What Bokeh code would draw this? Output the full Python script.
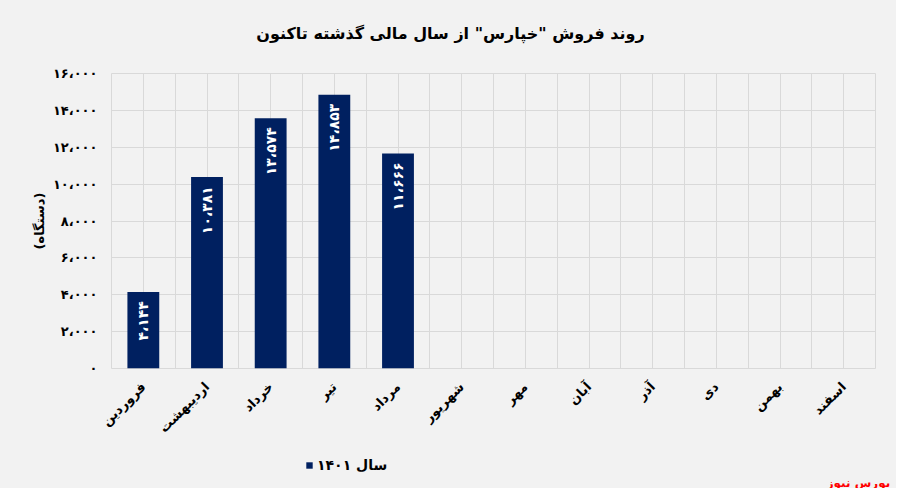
from math import pi
from bokeh.plotting import figure
from bokeh.layouts import column
from bokeh.models import (FactorRange, Range1d, FixedTicker, Grid, Legend, LegendItem,
                          ColumnDataSource)
from bokeh.core.properties import value
from bokeh.embed import file_html
from bokeh.resources import INLINE

# ---- data ----
months = ["فروردین", "اردیبهشت", "خرداد", "تیر", "مرداد", "شهریور",
          "مهر", "آبان", "آذر", "دی", "بهمن", "اسفند"]
sales_1401 = [4144, 10381, 13574, 14853, 11666]
y_ticks = [0, 2000, 4000, 6000, 8000, 10000, 12000, 14000, 16000]
series_name = "سال ۱۴۰۱"
title_text = 'روند فروش "خپارس" از سال مالی گذشته تاکنون'
y_label = "(دستگاه)"
source_text = "بورس نیوز"

FA = str.maketrans("0123456789", "۰۱۲۳۴۵۶۷۸۹")


def fa_num(n):
    return f"{n:,}".replace(",", "،").translate(FA)


FONT = "DejaVu Sans"
NAVY = "#002060"
BG = "#f2f2f2"
GRID = "#d9d9d9"
W = 896
HEAD_H, MAIN_H, FOOT_H = 60, 383, 45


def strip(height, x_range, y_range, **kw):
    f = figure(width=W, height=height, output_backend="svg", toolbar_location=None,
               x_range=x_range, y_range=y_range, min_border=0, frame_align=False,
               x_axis_location=None, y_axis_location=None, **kw)
    f.background_fill_color = BG
    f.border_fill_color = BG
    f.outline_line_color = None
    f.grid.visible = False
    return f


# ---- header: title ----
head = strip(HEAD_H, Range1d(0, W), Range1d(0, HEAD_H))
head.text(x=[450], y=[HEAD_H - 33], text=[title_text], text_align="center",
          text_baseline="middle", text_color="black", text_font=value(FONT),
          text_font_style="bold", text_font_size="16px")

# ---- main chart ----
p = figure(width=W, height=MAIN_H, output_backend="svg", toolbar_location=None,
           x_range=FactorRange(factors=months, range_padding=0),
           y_range=Range1d(0, 16000),
           min_border_left=111, min_border_right=21, min_border_top=13, min_border_bottom=74)
p.background_fill_color = BG
p.border_fill_color = BG
p.outline_line_color = GRID

src = ColumnDataSource(dict(m=months[:len(sales_1401)], v=sales_1401,
                            lab=[fa_num(v) for v in sales_1401]))
bars = p.vbar(x="m", top="v", width=0.5, source=src, fill_color=NAVY, line_color=None)
p.text(x="m", y="v", text="lab", source=src, angle=pi / 2, text_align="right",
       text_baseline="middle", y_offset=9, text_color="white",
       text_font=value(FONT), text_font_style="bold", text_font_size="14px")

p.xgrid.grid_line_color = GRID
p.ygrid.grid_line_color = GRID
p.ygrid.ticker = FixedTicker(ticks=y_ticks)
p.add_layout(Grid(dimension=0, ticker=FixedTicker(ticks=list(range(len(months) + 1))),
                  grid_line_color=GRID))

p.yaxis.ticker = FixedTicker(ticks=y_ticks)
p.yaxis.major_label_overrides = {t: fa_num(t) for t in y_ticks}
p.yaxis.axis_label = y_label
for ax in (p.xaxis[0], p.yaxis[0]):
    ax.axis_line_color = None
    ax.major_tick_line_color = None
    ax.minor_tick_line_color = None
    ax.major_label_text_font = FONT
    ax.major_label_text_font_style = "bold"
    ax.major_label_text_font_size = "13px"
    ax.major_label_text_color = "black"
p.yaxis.major_label_standoff = 8
p.yaxis.axis_label_standoff = 3
p.yaxis.axis_label_text_font = FONT
p.yaxis.axis_label_text_font_style = "bold"
p.yaxis.axis_label_text_font_size = "13px"
p.yaxis.axis_label_text_color = "black"
p.xaxis.major_label_orientation = pi / 4
p.xaxis.major_label_standoff = 10

# ---- footer: legend + source ----
foot = strip(FOOT_H, FactorRange(factors=months, range_padding=0), Range1d(-FOOT_H, 0))
# same series, drawn upward from 0 so it stays out of this strip's view; used by the legend
leg_r = foot.vbar(x="m", top="v", width=0.5, source=src, fill_color=NAVY, line_color=None)
legend = Legend(items=[LegendItem(label=series_name, renderers=[leg_r])],
                location=(305, 15), orientation="horizontal",
                background_fill_alpha=0, border_line_color=None, padding=0, margin=0,
                glyph_width=8, glyph_height=8, label_standoff=4,
                label_text_font=FONT, label_text_font_style="bold",
                label_text_font_size="14px", label_text_color="black")
foot.add_layout(legend)
foot.text(x=[months[-1]], y=[-39], text=[source_text], x_offset=31, text_align="right",
          text_baseline="middle", text_color="red", text_font=value(FONT),
          text_font_style="bold", text_font_size="12px")

layout = column(head, p, foot, spacing=0, styles={"background-color": BG})
open("out.html", "w").write(file_html(layout, INLINE))
